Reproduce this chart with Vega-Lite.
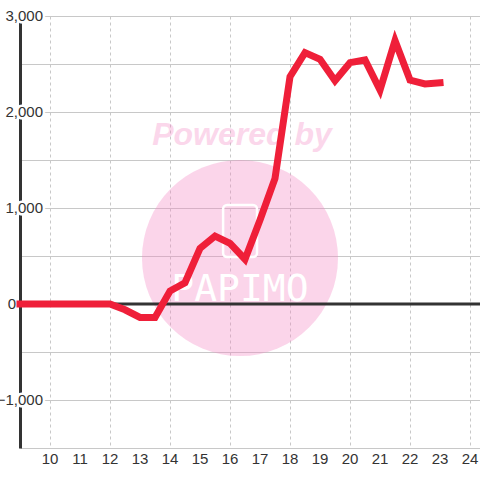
{
  "$schema": "https://vega.github.io/schema/vega-lite/v6.json",
  "width": 460,
  "height": 432,
  "autosize": "none",
  "padding": {"left": 20, "top": 16, "right": 0, "bottom": 32},
  "background": "white",
  "config": {
    "view": {"stroke": null},
    "axis": {"title": null}
  },
  "datasets": {
    "series": [
      {"hour": 9, "value": 0},
      {"hour": 9.5, "value": 0},
      {"hour": 10, "value": 0},
      {"hour": 10.5, "value": 0},
      {"hour": 11, "value": 0},
      {"hour": 11.5, "value": 0},
      {"hour": 12, "value": 0},
      {"hour": 12.5, "value": -60},
      {"hour": 13, "value": -140},
      {"hour": 13.5, "value": -140},
      {"hour": 14, "value": 135},
      {"hour": 14.5, "value": 222},
      {"hour": 15, "value": 580},
      {"hour": 15.5, "value": 708},
      {"hour": 16, "value": 632},
      {"hour": 16.5, "value": 466},
      {"hour": 17, "value": 875},
      {"hour": 17.5, "value": 1309},
      {"hour": 18, "value": 2368},
      {"hour": 18.5, "value": 2618},
      {"hour": 19, "value": 2549},
      {"hour": 19.5, "value": 2326},
      {"hour": 20, "value": 2514},
      {"hour": 20.5, "value": 2542},
      {"hour": 21, "value": 2229},
      {"hour": 21.5, "value": 2743},
      {"hour": 22, "value": 2333},
      {"hour": 22.5, "value": 2292},
      {"hour": 23, "value": 2305}
    ],
    "ylabels": [
      {"v": -1000},
      {"v": 1000},
      {"v": 2000},
      {"v": 3000}
    ],
    "zerolabel": [
      {"v": 0}
    ],
    "xlabels": [
      {"h": 10}, {"h": 11}, {"h": 12}, {"h": 13}, {"h": 14},
      {"h": 15}, {"h": 16}, {"h": 17}, {"h": 18}, {"h": 19},
      {"h": 20}, {"h": 21}, {"h": 22}, {"h": 23}, {"h": 24}
    ]
  },
  "data": {"name": "series"},
  "layer": [
    {
      "mark": {"type": "line", "opacity": 0},
      "encoding": {
        "x": {
          "field": "hour", "type": "quantitative",
          "scale": {"domain": [9, 24.333], "nice": false, "zero": false},
          "axis": {
            "title": null, "values": [10, 11, 12, 13, 14, 15, 16, 17, 18, 19, 20, 21, 22, 23, 24],
            "domain": false, "ticks": false, "labels": false,
            "grid": true, "gridColor": "#c8c8c8", "gridDash": [3, 3], "gridWidth": 1
          }
        },
        "y": {
          "field": "value", "type": "quantitative",
          "scale": {"domain": [-1500, 3000], "nice": false, "zero": false},
          "axis": {
            "title": null,
            "values": [-1500, -1000, -500, 0, 500, 1000, 1500, 2000, 2500, 3000],
            "labels": false,
            "domain": true, "domainColor": "#333333", "domainWidth": 3,
            "ticks": false,
            "grid": true, "gridColor": "#c8c8c8", "gridWidth": 1
          }
        }
      }
    },
    {
      "data": {"values": [{}]},
      "mark": {"type": "point", "shape": "circle", "filled": true, "fill": "#f487c3", "opacity": 0.35, "size": 38416, "strokeWidth": 0},
      "encoding": {
        "x": {"datum": 16.333, "type": "quantitative"},
        "y": {"datum": 479, "type": "quantitative"}
      }
    },
    {
      "data": {"values": [{}]},
      "mark": {"type": "text", "text": "Powered by", "font": "Liberation Sans", "fontStyle": "italic", "fontWeight": "bold", "fontSize": 32, "fill": "#f487c3", "opacity": 0.33, "align": "center", "baseline": "middle"},
      "encoding": {
        "x": {"datum": 16.4, "type": "quantitative"},
        "y": {"datum": 1760, "type": "quantitative"}
      }
    },
    {
      "data": {"values": [{}]},
      "mark": {"type": "rect", "fill": null, "stroke": "white", "strokeWidth": 2.5, "cornerRadius": 4},
      "encoding": {
        "x": {"datum": 15.77, "type": "quantitative"},
        "x2": {"datum": 16.9},
        "y": {"datum": 1031, "type": "quantitative"},
        "y2": {"datum": 490}
      }
    },
    {
      "data": {"values": [{}]},
      "mark": {"type": "text", "text": "PAPIMO", "font": "DejaVu Sans Mono", "fontSize": 38, "fill": "white", "align": "center", "baseline": "middle"},
      "encoding": {
        "x": {"datum": 16.333, "type": "quantitative"},
        "y": {"datum": 146, "type": "quantitative"}
      }
    },
    {
      "data": {"name": "ylabels"},
      "mark": {"type": "text", "font": "Liberation Sans", "fontSize": 15, "fill": "white", "stroke": "white", "strokeWidth": 5, "strokeJoin": "round", "align": "right", "baseline": "middle", "dx": 23},
      "encoding": {
        "x": {"datum": 9, "type": "quantitative"},
        "y": {"field": "v", "type": "quantitative"},
        "text": {"field": "v", "type": "quantitative", "format": ","}
      }
    },
    {
      "data": {"name": "ylabels"},
      "mark": {"type": "text", "font": "Liberation Sans", "fontSize": 15, "fill": "#333333", "align": "right", "baseline": "middle", "dx": 23},
      "encoding": {
        "x": {"datum": 9, "type": "quantitative"},
        "y": {"field": "v", "type": "quantitative"},
        "text": {"field": "v", "type": "quantitative", "format": ","}
      }
    },
    {
      "data": {"name": "xlabels"},
      "mark": {"type": "text", "font": "Liberation Sans", "fontSize": 15, "fill": "#333333", "align": "center", "baseline": "top", "dy": 4},
      "encoding": {
        "x": {"field": "h", "type": "quantitative"},
        "y": {"datum": -1500, "type": "quantitative"},
        "text": {"field": "h", "type": "quantitative", "format": "d"}
      }
    },
    {
      "data": {"values": [{}]},
      "mark": {"type": "rule", "color": "#333333", "strokeWidth": 3},
      "encoding": {
        "y": {"datum": 0, "type": "quantitative"}
      }
    },
    {
      "data": {"name": "zerolabel"},
      "mark": {"type": "text", "font": "Liberation Sans", "fontSize": 15, "fill": "#333333", "align": "right", "baseline": "middle", "dx": -4},
      "encoding": {
        "x": {"datum": 9, "type": "quantitative"},
        "y": {"field": "v", "type": "quantitative"},
        "text": {"field": "v", "type": "quantitative", "format": ","}
      }
    },
    {
      "mark": {"type": "line", "color": "#ef1f39", "strokeWidth": 7, "strokeCap": "square", "strokeJoin": "miter"},
      "encoding": {
        "x": {"field": "hour", "type": "quantitative"},
        "y": {"field": "value", "type": "quantitative"}
      }
    }
  ]
}
